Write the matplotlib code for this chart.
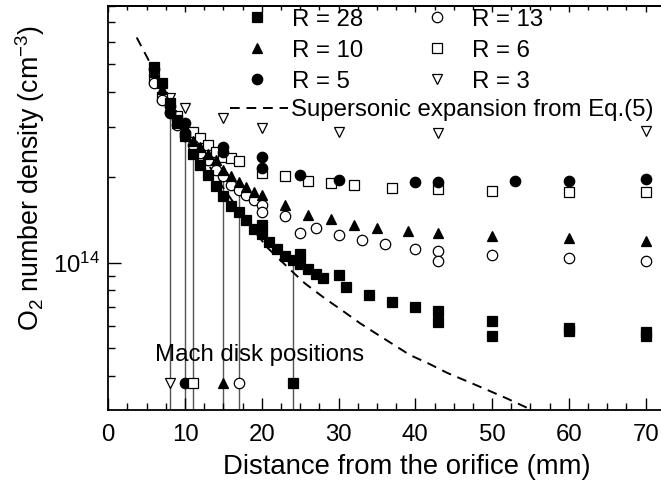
import matplotlib
matplotlib.use("Agg")
import matplotlib.pyplot as plt
from matplotlib.lines import Line2D
from matplotlib.ticker import MultipleLocator, LogLocator, NullFormatter

plt.rcParams['font.family'] = ['Liberation Sans', 'DejaVu Sans']
plt.rcParams['mathtext.fontset'] = 'custom'
plt.rcParams['mathtext.rm'] = 'Liberation Sans'
plt.rcParams['mathtext.it'] = 'Liberation Sans:italic'
plt.rcParams['mathtext.default'] = 'regular'

# ---- data (density in units of 1e14 cm^-3, distance in mm) ----
r28_x = [6, 7, 8, 9, 10, 11, 12, 13, 14, 15, 16, 17, 18, 19, 20, 20, 21, 22, 23, 24,
         25, 25, 26, 27, 28, 30, 31, 34, 37, 40, 43, 43, 50, 50, 60, 60, 70, 70]
r28_y = [4.9, 4.3, 3.65, 3.18, 2.78, 2.41, 2.21, 2.04, 1.86, 1.72, 1.588, 1.512, 1.413, 1.31,
         1.358, 1.262, 1.186, 1.114, 1.056, 1.022, 1.073, 0.987, 0.953, 0.912, 0.885, 0.903,
         0.823, 0.770, 0.729, 0.696, 0.676, 0.620, 0.625, 0.552, 0.59, 0.575, 0.572, 0.550]

r10_x = [6, 7, 8, 9, 10, 11, 12, 13, 14, 15, 16, 17, 18, 19, 20, 23, 26, 29, 32, 35, 39,
         43, 50, 60, 70]
r10_y = [4.7, 4.1, 3.55, 3.1, 2.85, 2.67, 2.55, 2.42, 2.30, 2.12, 2.01, 1.93, 1.852, 1.778,
         1.73, 1.596, 1.472, 1.422, 1.357, 1.321, 1.293, 1.269, 1.242, 1.219, 1.195]

r5_x = [6, 8, 8, 10, 10, 15, 15, 20, 20, 25, 30, 40, 43, 53, 60, 70]
r5_y = [4.79, 3.55, 3.35, 3.10, 2.86, 2.56, 2.46, 2.36, 2.15, 2.04, 1.95, 1.93, 1.93, 1.94,
        1.94, 1.97]

r13_x = [6, 7, 8, 9, 10, 11, 12, 13, 14, 15, 16, 17, 18, 19, 20, 20, 23, 25, 27, 30, 33,
         36, 40, 43, 43, 50, 60, 70]
r13_y = [4.3, 3.74, 3.4, 3.05, 2.8, 2.6, 2.43, 2.3, 2.12, 2.01, 1.88, 1.80, 1.73, 1.663,
         1.596, 1.512, 1.46, 1.269, 1.328, 1.252, 1.202, 1.161, 1.12, 1.102, 1.011, 1.064,
         1.036, 1.016]

r6_x = [6, 7, 9, 11, 12, 13, 14, 15, 16, 17, 20, 23, 26, 29, 32, 37, 43, 50, 60, 70]
r6_y = [4.45, 3.84, 3.27, 2.89, 2.74, 2.60, 2.46, 2.36, 2.33, 2.27, 2.07, 2.01, 1.944, 1.904,
        1.877, 1.837, 1.814, 1.793, 1.778, 1.770]

r3_x = [6, 8, 10, 15, 20, 30, 43, 70]
r3_y = [4.4, 3.79, 3.5, 3.23, 2.97, 2.89, 2.86, 2.9]

# supersonic expansion curve (Eq. 5)
sup_x = [3.7, 5.4, 8, 10, 12, 15, 18, 20.8, 23.5, 25.6, 28.2, 30.4, 32.8, 35.2, 39.3, 41.7,
         44.1, 48.4, 51.9, 55.3]
sup_y = [6.2, 5.07, 3.75, 3.0, 2.45, 1.83, 1.40, 1.124, 0.956, 0.846, 0.749, 0.681, 0.612,
         0.556, 0.473, 0.442, 0.41, 0.366, 0.333, 0.302]

# Mach disk positions (mm) and where the guide lines end
mach_x = [8, 10, 11, 15, 17, 24]
mach_top = [3.79, 3.0, 2.89, 2.12, 1.80, 1.022]
mach_series = ['R = 3', 'R = 5', 'R = 6', 'R = 10', 'R = 13', 'R = 28']
mach_level = 0.377

SCALE = 1e14

styles = {
    'R = 28': dict(marker='s', mfc='black', mec='black', ms=6.5),
    'R = 10': dict(marker='^', mfc='black', mec='black', ms=7.5),
    'R = 5':  dict(marker='o', mfc='black', mec='black', ms=7.5),
    'R = 13': dict(marker='o', mfc='white', mec='black', ms=7.5),
    'R = 6':  dict(marker='s', mfc='white', mec='black', ms=6.5),
    'R = 3':  dict(marker='v', mfc='white', mec='black', ms=7.5),
}
series = {
    'R = 28': (r28_x, r28_y),
    'R = 10': (r10_x, r10_y),
    'R = 5': (r5_x, r5_y),
    'R = 13': (r13_x, r13_y),
    'R = 6': (r6_x, r6_y),
    'R = 3': (r3_x, r3_y),
}

fig = plt.figure(figsize=(6.61, 4.84), dpi=100)
ax = fig.add_axes([0.1638, 0.152, 0.8362, 0.8356])

ymin, ymax = 3.02e13, 8.0e14

# Mach disk guide lines
ax.vlines(mach_x, ymin, [v * SCALE for v in mach_top], colors='#555555', lw=1.0, zorder=1)

# supersonic expansion
ax.plot(sup_x, [v * SCALE for v in sup_y], color='black', lw=1.4, ls=(0, (5, 3.5)), zorder=2)

draw_order = ['R = 3', 'R = 6', 'R = 13', 'R = 5', 'R = 10', 'R = 28']
for name in draw_order:
    xs, ys = series[name]
    st = styles[name]
    ax.plot(xs, [v * SCALE for v in ys], ls='none', mew=0.9, zorder=3, **st)

# Mach disk markers
for mx, name in zip(mach_x, mach_series):
    ax.plot([mx], [mach_level * SCALE], ls='none', mew=0.9, zorder=4, **styles[name])

ax.text(6.1, 4.73e13, 'Mach disk positions', fontsize=17.3, ha='left', va='center')

ax.set_yscale('log')
ax.set_xlim(0, 72)
ax.set_ylim(ymin, ymax)

ax.xaxis.set_major_locator(MultipleLocator(10))
ax.xaxis.set_minor_locator(MultipleLocator(2.5))
ax.yaxis.set_major_locator(LogLocator(base=10))
ax.yaxis.set_minor_locator(LogLocator(base=10, subs=range(2, 10)))
ax.yaxis.set_minor_formatter(NullFormatter())

ax.tick_params(which='both', direction='in', top=False, right=False, labelsize=17.3, width=1.0)
ax.tick_params(which='major', length=9)
ax.tick_params(which='minor', length=5)
ax.tick_params(axis='x', pad=10)
ax.tick_params(axis='y', pad=6)
for s in ['left', 'bottom', 'top']:
    ax.spines[s].set_linewidth(1.3)
ax.spines['right'].set_visible(False)

# short ticks along the top edge
sec = ax.secondary_xaxis('top')
sec.xaxis.set_major_locator(MultipleLocator(10))
sec.xaxis.set_minor_locator(MultipleLocator(2.5))
sec.tick_params(which='both', direction='in', labeltop=False, width=1.0)
sec.tick_params(which='major', length=4)
sec.tick_params(which='minor', length=3)
sec.spines['top'].set_linewidth(1.3)

ax.set_xlabel('Distance from the orifice (mm)', fontsize=19.8)
ax.xaxis.label.set_verticalalignment('center')
ax.xaxis.set_label_coords(0.540, -0.141)
ax.set_ylabel('O$_2$ number density (cm$^{-3}$)', fontsize=19.3)
ax.yaxis.label.set_verticalalignment('center')
ax.yaxis.set_label_coords(-0.1417, 0.574)

# legends
names = ['R = 28', 'R = 10', 'R = 5', 'R = 13', 'R = 6', 'R = 3']
h1 = [Line2D([], [], ls='none', mew=0.9, **styles[n]) for n in names]
l1 = ax.legend(h1, names, ncol=2,
               loc='upper left', bbox_to_anchor=(0.247, 0.993), frameon=False, fontsize=17.3,
               handlelength=1.0, handletextpad=0.95, columnspacing=2.6, labelspacing=0.37,
               borderpad=0.0, borderaxespad=0)
ax.add_artist(l1)
h2 = [Line2D([], [], color='black', lw=1.4, ls=(0, (5, 3.5)))]
ax.legend(h2, ['Supersonic expansion from Eq.(5)'], loc='upper left', bbox_to_anchor=(0.220, 0.770),
          frameon=False, fontsize=17.3, handlelength=2.4, handletextpad=0.15, borderpad=0.0,
          borderaxespad=0)

fig.savefig('out.png', dpi=100)
